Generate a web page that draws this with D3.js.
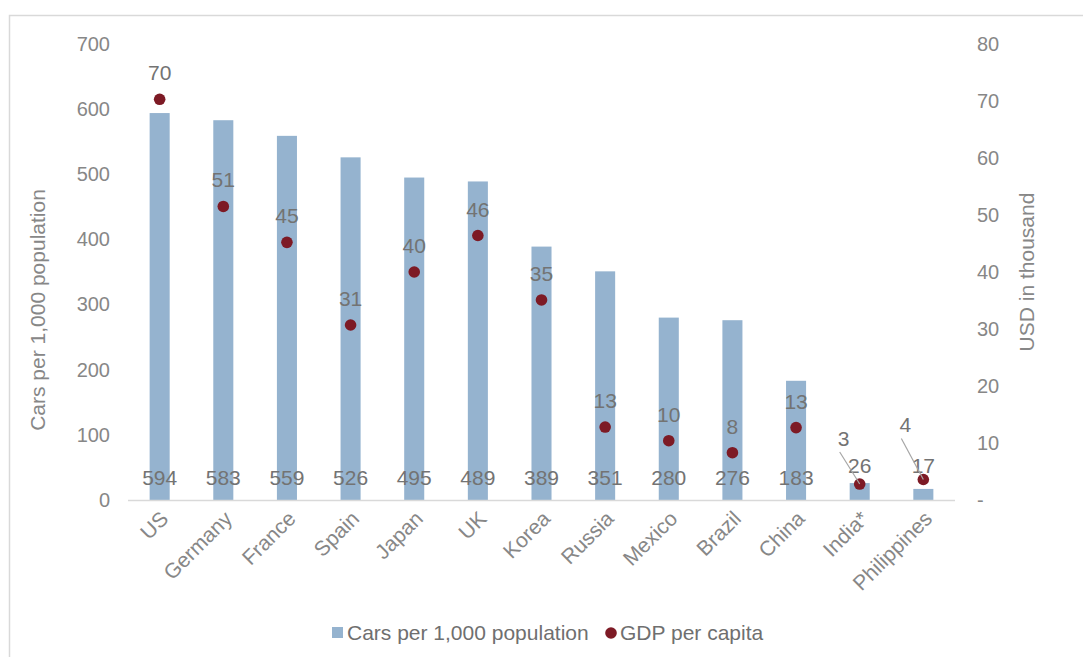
<!DOCTYPE html>
<html>
<head>
<meta charset="utf-8">
<script src="https://cdn.jsdelivr.net/npm/d3@7"></script>
<style>
  body { margin: 0; background: #fff; }
  svg { font-family: "Liberation Sans", Arial, sans-serif; }
</style>
</head>
<body>
<div id="container"></div>
<script>
const countries = ["US", "Germany", "France", "Spain", "Japan", "UK", "Korea", "Russia", "Mexico", "Brazil", "China", "India*", "Philippines"]
const cars = [594, 583, 559, 526, 495, 489, 389, 351, 280, 276, 183, 26, 17]
const gdp = [70.3, 51.5, 45.2, 30.7, 40.0, 46.4, 35.1, 12.8, 10.4, 8.3, 12.7, 2.8, 3.6]
const gdpLabels = [70, 51, 45, 31, 40, 46, 35, 13, 10, 8, 13, 3, 4]
const leftTicks = [0, 100, 200, 300, 400, 500, 600, 700]
const rightTicks = [0, 10, 20, 30, 40, 50, 60, 70, 80]

const w = 1083
const h = 657

const svg = d3.select("#container")
    .append("svg")
    .attr("width", w)
    .attr("height", h)

// frame
svg.append("rect")
    .attr("x", 9.5).attr("y", 15.5)
    .attr("width", 1100).attr("height", 700)
    .attr("fill", "none")
    .attr("stroke", "#d9d9d9")
    .attr("stroke-width", 1.5)

const xScale = d3.scaleBand()
    .domain(countries)
    .range([128, 955])
    .paddingInner(0.685)
    .paddingOuter(0.34)

const yLeft = d3.scaleLinear().domain([0, 700]).range([500, 44])
const yRight = d3.scaleLinear().domain([0, 80]).range([500, 44])

const tickColor = "#878787"
const labelColor = "#737373"
const fs = 21

// left axis
const leftAxis = svg.append("g")
    .attr("transform", "translate(110,0)")
    .call(d3.axisLeft(yLeft).tickValues(leftTicks).tickSize(0).tickPadding(0))
leftAxis.select(".domain").remove()
leftAxis.selectAll("text")
    .attr("font-size", 20).attr("fill", tickColor)
    .attr("font-family", "Liberation Sans, Arial, sans-serif")

// right axis
const rightAxis = svg.append("g")
    .attr("transform", "translate(977,0)")
    .call(d3.axisRight(yRight).tickValues(rightTicks).tickSize(0).tickPadding(0)
        .tickFormat(d => d === 0 ? "-" : d))
rightAxis.select(".domain").remove()
rightAxis.selectAll("text")
    .attr("font-size", 20).attr("fill", tickColor)
    .attr("font-family", "Liberation Sans, Arial, sans-serif")

// axis titles
svg.append("text")
    .attr("transform", "translate(45,310) rotate(-90)")
    .attr("text-anchor", "middle")
    .attr("font-size", fs).attr("fill", tickColor)
    .text("Cars per 1,000 population")
svg.append("text")
    .attr("transform", "translate(1034,272) rotate(-90)")
    .attr("text-anchor", "middle")
    .attr("font-size", fs).attr("fill", tickColor)
    .text("USD in thousand")

// bars
svg.selectAll("rect.bar")
    .data(cars)
    .enter()
    .append("rect")
    .attr("class", "bar")
    .attr("x", (d, i) => xScale(countries[i]))
    .attr("y", d => yLeft(d))
    .attr("width", xScale.bandwidth())
    .attr("height", d => yLeft(0) - yLeft(d))
    .attr("fill", "#95b3cf")

// baseline
svg.append("line")
    .attr("x1", 128).attr("x2", 955)
    .attr("y1", 500.5).attr("y2", 500.5)
    .attr("stroke", "#d9d9d9").attr("stroke-width", 1.5)

// category labels
svg.selectAll("text.cat")
    .data(countries)
    .enter()
    .append("text")
    .attr("class", "cat")
    .attr("text-anchor", "end")
    .attr("transform", d => `translate(${xScale(d) + xScale.bandwidth() / 2 + 10},${520}) rotate(-45)`)
    .attr("font-size", fs).attr("fill", tickColor)
    .text(d => d)

// bar value labels
svg.selectAll("text.val")
    .data(cars)
    .enter()
    .append("text")
    .attr("class", "val")
    .attr("x", (d, i) => xScale(countries[i]) + xScale.bandwidth() / 2)
    .attr("y", d => d < 100 ? 473 : 485)
    .attr("text-anchor", "middle")
    .attr("font-size", fs).attr("fill", labelColor)
    .text(d => d)

// GDP dots
svg.selectAll("circle.gdp")
    .data(gdp)
    .enter()
    .append("circle")
    .attr("class", "gdp")
    .attr("cx", (d, i) => xScale(countries[i]) + xScale.bandwidth() / 2)
    .attr("cy", d => yRight(d))
    .attr("r", 5.8)
    .attr("fill", "#7d1a25")

// GDP labels; the last two are pulled up-left with leader lines
const offsets = gdpLabels.map((d, i) => ({ dx: 0, dy: -19 }))
offsets[11] = { dx: -16, dy: -38 }
offsets[12] = { dx: -18, dy: -47 }

svg.selectAll("line.leader")
    .data(gdp.slice(11))
    .enter()
    .append("line")
    .attr("class", "leader")
    .attr("x1", (d, i) => xScale(countries[i + 11]) + xScale.bandwidth() / 2 + offsets[i + 11].dx - 4)
    .attr("y1", (d, i) => yRight(d) + offsets[i + 11].dy + 6)
    .attr("x2", (d, i) => xScale(countries[i + 11]) + xScale.bandwidth() / 2)
    .attr("y2", d => yRight(d))
    .attr("stroke", "#a6a6a6").attr("stroke-width", 1.2)

svg.selectAll("text.gdpl")
    .data(gdpLabels)
    .enter()
    .append("text")
    .attr("class", "gdpl")
    .attr("x", (d, i) => xScale(countries[i]) + xScale.bandwidth() / 2 + offsets[i].dx)
    .attr("y", (d, i) => yRight(gdp[i]) + offsets[i].dy)
    .attr("text-anchor", "middle")
    .attr("font-size", fs).attr("fill", labelColor)
    .text(d => d)

// legend
const legend = svg.append("g")
legend.append("rect")
    .attr("x", 332).attr("y", 627).attr("width", 11).attr("height", 11)
    .attr("fill", "#95b3cf")
legend.append("text")
    .attr("x", 347).attr("y", 640)
    .attr("font-size", fs).attr("fill", "#6f6f6f")
    .text("Cars per 1,000 population")
legend.append("circle")
    .attr("cx", 611).attr("cy", 633).attr("r", 5.8)
    .attr("fill", "#7d1a25")
legend.append("text")
    .attr("x", 620).attr("y", 640)
    .attr("font-size", fs).attr("fill", "#6f6f6f")
    .text("GDP per capita")
</script>
</body>
</html>
